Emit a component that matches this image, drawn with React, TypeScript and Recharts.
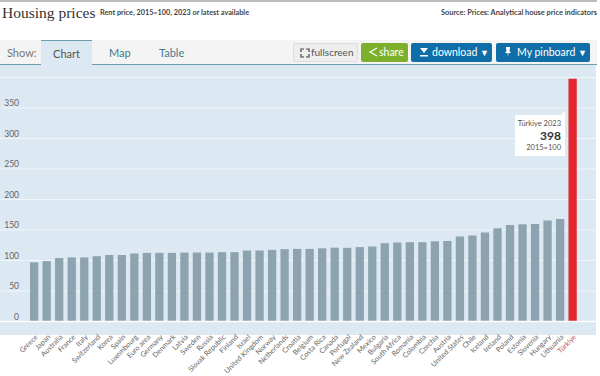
import { Bar, BarChart, CartesianGrid, Cell, Tooltip, XAxis, YAxis } from "recharts";

const countries = [
  "Greece", "Japan", "Australia", "France", "Italy", "Switzerland", "Korea", "Spain", "Luxembourg", "Euro area", "Germany",
  "Denmark", "Latvia", "Sweden", "Russia", "Slovak Republic", "Finland", "Israel", "United Kingdom", "Norway", "Netherlands",
  "Croatia", "Belgium", "Costa Rica", "Canada", "Portugal", "New Zealand", "Mexico", "Bulgaria", "South Africa", "Romania",
  "Colombia", "Czechia", "Austria", "United States", "Chile", "Iceland", "Ireland", "Poland", "Estonia", "Slovenia", "Hungary",
  "Lithuania", "Türkiye",
];
const rentPrices = [
  97, 99, 104, 105, 105, 107, 109, 109, 111.5, 112.5, 112.5, 112.5, 113, 113, 113, 113.7, 113.7, 116.4, 116.4, 117.5, 118.6,
  119, 119, 120, 121, 120.8, 122, 123, 128.4, 129.5, 130, 130, 131.5, 132, 139.5, 141, 146, 153, 158, 159.6, 160, 165.6, 168, 398,
];
const yTicks = [0, 50, 100, 150, 200, 250, 300, 350];
const highlighted = "Türkiye";

const data = countries.map((country, i) => ({ country, value: rentPrices[i] }));
const font = "Lato, sans-serif";

function CountryTick({ x, y, payload }: any) {
  const isRed = payload.value === highlighted;
  return (
    <text
      x={x + 4}
      y={y + 8}
      textAnchor="end"
      fontSize={7.2}
      fontFamily={font}
      fill={isRed ? "#c2505c" : "#666"}
      transform={`rotate(-45 ${x + 4} ${y + 8})`}
    >
      {payload.value}
    </text>
  );
}

function ValueTick({ y, payload }: any) {
  return (
    <text x={19} y={y - 2} textAnchor="end" fontSize={8.5} fontFamily={font} fill="#666">
      {payload.value}
    </text>
  );
}

function Callout() {
  return (
    <div style={{ position: "relative", width: 50, height: 41, background: "#fff", fontFamily: font, color: "#555", fontSize: 7.5, textAlign: "right", boxSizing: "border-box", padding: "3px 4px 0 0", lineHeight: "11px", whiteSpace: "nowrap" }}>
      <div style={{ position: "absolute", right: 0, top: -4, width: 0, height: 0, borderLeft: "5px solid transparent", borderBottom: "5px solid #fff" }} />
      <div>Türkiye 2023</div>
      <div style={{ fontWeight: 700, fontSize: 12, color: "#333", lineHeight: "13px" }}>398</div>
      <div>2015=100</div>
    </div>
  );
}

function Icon({ d, size = 10, stroke }: { d: string; size?: number; stroke?: string }) {
  return (
    <svg width={size} height={size} viewBox="0 0 10 10" style={{ position: "absolute", left: 0, top: 4 }}>
      <path d={d} fill={stroke ? "none" : "#fff"} stroke={stroke} strokeWidth={1.2} />
    </svg>
  );
}

const buttonStyle = {
  position: "absolute",
  top: 43,
  height: 19,
  lineHeight: "19px",
  fontSize: 10.5,
  borderRadius: 2,
  color: "#fff",
  whiteSpace: "nowrap",
} as const;

const tabStyle = { position: "absolute", top: 41, height: 23, lineHeight: "24px", fontSize: 11, color: "#3d7a90" } as const;

export default function App() {
  return (
    <div style={{ position: "absolute", left: 0, top: 0, width: 600, height: 376, background: "#fff", overflow: "hidden", fontFamily: font }}>
      <div style={{ position: "absolute", left: 0, top: 0, width: 597, height: 2, background: "#bbb" }} />
      <div style={{ position: "absolute", left: 2, top: 1, fontFamily: "'Liberation Serif', serif", fontSize: 15.5, lineHeight: "24px", color: "#333" }}>Housing prices</div>
      <div style={{ position: "absolute", left: 100, top: 7, fontSize: 7.3, fontWeight: 700, lineHeight: "12px", color: "#444", whiteSpace: "nowrap" }}>Rent price, 2015=100, 2023 or latest available</div>
      <div style={{ position: "absolute", right: 3, top: 7, fontSize: 7.4, fontWeight: 700, lineHeight: "12px", color: "#444", whiteSpace: "nowrap" }}>Source: Prices: Analytical house price indicators</div>

      <div style={{ position: "absolute", left: 0, top: 40, width: 597, height: 24, background: "#f4f4f4", borderBottom: "1px solid #6f9fae" }} />
      <div style={{ position: "absolute", left: 7, top: 41, lineHeight: "23px", fontSize: 11, color: "#777" }}>Show:</div>
      <div style={{ ...tabStyle, left: 41, top: 40, width: 51, height: 25, lineHeight: "25px", textAlign: "center", background: "#dce8f2", borderTop: "1px solid #6f9fae", boxSizing: "border-box", color: "#555" }}>Chart</div>
      <div style={{ ...tabStyle, left: 109 }}>Map</div>
      <div style={{ ...tabStyle, left: 159 }}>Table</div>

      <div style={{ ...buttonStyle, left: 293, width: 65, background: "#eee", color: "#555", border: "1px solid #ddd", boxSizing: "border-box", lineHeight: "17px", fontSize: 10 }}>
        <span style={{ position: "absolute", left: 6, top: 0, width: 10, height: 17 }}>
          <Icon d="M1 4V1H4M6 1H9V4M9 6V9H6M4 9H1V6" stroke="#444" />
        </span>
        <span style={{ position: "absolute", left: 17 }}>fullscreen</span>
      </div>
      <div style={{ ...buttonStyle, left: 361, width: 47, background: "#7cb02c" }}>
        <span style={{ position: "absolute", left: 7, top: 0, width: 10, height: 19 }}>
          <Icon d="M9 1L2 5L9 9" stroke="#fff" />
        </span>
        <span style={{ position: "absolute", left: 18 }}>share</span>
      </div>
      <div style={{ ...buttonStyle, left: 411, width: 81, background: "#0f6ea8" }}>
        <span style={{ position: "absolute", left: 8, top: 0, width: 10, height: 19 }}>
          <Icon d="M1 1H9L5 6ZM1 8H9V9.5H1Z" />
        </span>
        <span style={{ position: "absolute", left: 21 }}>download</span>
        <span style={{ position: "absolute", left: 69, fontSize: 9 }}>▼</span>
      </div>
      <div style={{ ...buttonStyle, left: 496, width: 94, background: "#0f6ea8" }}>
        <span style={{ position: "absolute", left: 7, top: 0, width: 10, height: 19 }}>
          <Icon d="M3 0H7V1L6.5 4L8 6H5.5L5 10L4.5 6H2L3.5 4L3 1Z" />
        </span>
        <span style={{ position: "absolute", left: 21 }}>My pinboard</span>
        <span style={{ position: "absolute", left: 82, fontSize: 9 }}>▼</span>
      </div>

      <div style={{ position: "absolute", left: 0, top: 65, width: 596, height: 270, background: "#dce8f2" }} />

      <div style={{ position: "absolute", left: 0, top: 0 }}>
        <BarChart width={596} height={376} data={data} margin={{ top: 77.5, right: 0, bottom: 0, left: 0 }} barSize={8.3}>
          <CartesianGrid horizontal vertical={false} stroke="#f1f6fa" strokeWidth={1} />
          <XAxis
            dataKey="country"
            interval={0}
            height={54.5}
            padding={{ left: 28, right: 17 }}
            axisLine={{ stroke: "#fff", strokeWidth: 1.5 }}
            tickLine={false}
            tick={<CountryTick />}
          />
          <YAxis mirror width={20} domain={[0, 400]} ticks={yTicks} axisLine={false} tickLine={false} tick={<ValueTick />} />
          <Tooltip
            defaultIndex={43}
            position={{ x: 515, y: 115 }}
            cursor={false}
            isAnimationActive={false}
            content={<Callout />}
            wrapperStyle={{ outline: "none" }}
          />
          <Bar dataKey="value" isAnimationActive={false} fill="#8ea3b0">
            {data.map((d) => (
              <Cell key={d.country} fill={d.country === highlighted ? "#e3262e" : "#8ea3b0"} />
            ))}
          </Bar>
        </BarChart>
      </div>
    </div>
  );
}
